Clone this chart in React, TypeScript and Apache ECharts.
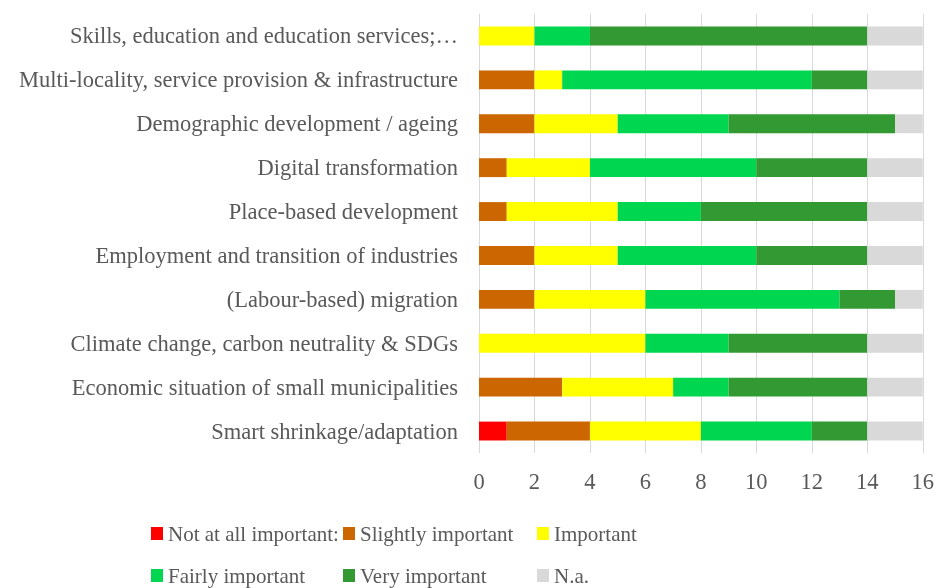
import React, { useEffect, useRef } from "react";
import * as echarts from "echarts";

const categories = [
  "Smart shrinkage/adaptation",
  "Economic situation of small municipalities",
  "Climate change, carbon neutrality & SDGs",
  "(Labour-based) migration",
  "Employment and transition of industries",
  "Place-based development",
  "Digital transformation",
  "Demographic development / ageing",
  "Multi-locality, service provision & infrastructure",
  "Skills, education and education services;…",
];

const seriesNames = [
  "Not at all important:",
  "Slightly important",
  "Important",
  "Fairly important",
  "Very important",
  "N.a.",
];

const notAtAll = [1, 0, 0, 0, 0, 0, 0, 0, 0, 0];
const slightly = [3, 3, 0, 2, 2, 1, 1, 2, 2, 0];
const important = [4, 4, 6, 4, 3, 4, 3, 3, 1, 2];
const fairly = [4, 2, 3, 7, 5, 3, 6, 4, 9, 2];
const very = [2, 5, 5, 2, 4, 6, 4, 6, 2, 10];
const na = [2, 2, 2, 1, 2, 2, 2, 1, 2, 2];

const xTicks = [0, 2, 4, 6, 8, 10, 12, 14, 16];

const colors = ["#ff0000", "#cc6600", "#ffff00", "#00d650", "#339933", "#d9d9d9"];

export default function App() {
  const ref = useRef<HTMLDivElement>(null);
  useEffect(() => {
    if (!ref.current) return;
    const chart = echarts.init(ref.current, undefined, { renderer: "svg" });
    const font = "'Liberation Serif', 'DejaVu Serif', serif";
    const fs = 22.5;
    const values = [notAtAll, slightly, important, fairly, very, na];
    const legendPos = [
      { left: 151, top: 523 },
      { left: 343, top: 523 },
      { left: 537, top: 523 },
      { left: 151, top: 565 },
      { left: 343, top: 565 },
      { left: 537, top: 565 },
    ];
    chart.setOption({
      animation: false,
      color: colors,
      grid: { left: 479, right: 14, top: 14, bottom: 135, containLabel: false },
      xAxis: {
        type: "value",
        min: 0,
        max: 16,
        interval: 2,
        axisLine: { show: false },
        axisTick: { show: false },
        splitLine: { show: true, lineStyle: { color: "#d9d9d9", width: 1 } },
        axisLabel: {
          fontFamily: font,
          fontSize: fs,
          color: "#595959",
          margin: 17,
          formatter: (v: number) => (xTicks.includes(v) ? String(v) : ""),
        },
      },
      yAxis: {
        type: "category",
        data: categories,
        axisLine: { show: false },
        axisTick: { show: false },
        axisLabel: {
          fontFamily: font,
          fontSize: fs,
          color: "#595959",
          margin: 21,
        },
      },
      legend: seriesNames.map((name, i) => ({
        data: [name],
        left: legendPos[i].left,
        top: legendPos[i].top,
        padding: 0,
        icon: "rect",
        itemWidth: 12,
        itemHeight: 13,
        textStyle: { fontFamily: font, fontSize: 21, color: "#595959" },
        selectedMode: false,
      })),
      series: seriesNames.map((name, i) => ({
        name,
        type: "bar",
        stack: "total",
        barWidth: "43%",
        data: values[i],
        itemStyle: { color: colors[i] },
      })),
    });
    return () => chart.dispose();
  }, []);
  return <div ref={ref} style={{ width: 937, height: 588, position: "fixed", left: 0, top: 0 }} />;
}
